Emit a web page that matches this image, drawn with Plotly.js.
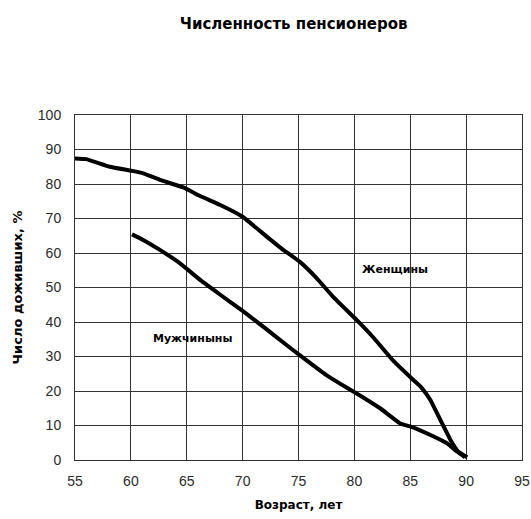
<!DOCTYPE html>
<html>
<head>
<meta charset="utf-8">
<script src="https://cdn.plot.ly/plotly-3.0.1.min.js"></script>
<style>html,body{margin:0;padding:0;background:#fff;}#chart{width:531px;height:519px;}</style>
</head>
<body>
<div id="chart"></div>
<script>
// Женщины (women)
var womenAge = [55, 56, 58.1, 60.1, 61.1, 62.6, 64.7, 66.2, 68.0, 70.0, 72.1, 73.6, 75.1, 76.6, 78.1, 80.2, 81.7, 83.5, 85.2, 86.0, 86.8, 87.7, 88.6, 89.3, 90.1];
var womenPct = [87.4, 87.2, 85.0, 83.8, 83.1, 81.2, 79.0, 76.5, 73.9, 70.5, 64.9, 61.0, 57.5, 52.8, 47.3, 40.6, 35.5, 28.7, 23.4, 21.0, 17.4, 11.6, 5.8, 2.4, 0.8];
// Мужчины (men)
var menAge = [60.1, 61.1, 62.6, 64.4, 66.2, 68.0, 70.0, 72.1, 73.9, 75.1, 77.5, 79.3, 80.2, 82.3, 84.1, 85.3, 87.1, 88.3, 89.2, 89.9];
var menPct = [65.4, 63.8, 60.9, 57.0, 52.2, 47.9, 43.2, 38.0, 33.4, 30.4, 24.6, 21.0, 19.3, 15.0, 10.6, 9.4, 6.8, 4.8, 2.4, 0.8];

var xTicks = [55, 60, 65, 70, 75, 80, 85, 90, 95];
var yTicks = [0, 10, 20, 30, 40, 50, 60, 70, 80, 90, 100];

var titleText = "Численность пенсионеров";
var xTitle = "Возраст, лет";
var yTitle = "Число доживших, %";
var labelWomen = "Женщины";
var labelMen = "Мужчиныны";

var lineStyle = {color: "#000", width: 4, shape: "spline", smoothing: 0.3};

var traces = [
  {x: womenAge, y: womenPct, mode: "lines", line: lineStyle, name: labelWomen, hoverinfo: "skip"},
  {x: menAge, y: menPct, mode: "lines", line: lineStyle, name: labelMen, hoverinfo: "skip"}
];

var tickFont = {family: "Liberation Sans, Arial, sans-serif", size: 14, color: "#2a2a2a"};

var layout = {
  width: 531, height: 519,
  margin: {l: 75, r: 9, t: 115, b: 59},
  paper_bgcolor: "#fff", plot_bgcolor: "#fff",
  showlegend: false,
  title: {text: "<b>" + titleText + "</b>", font: {family: "DejaVu Sans, sans-serif", size: 15, color: "#000"}, x: 0.553, xanchor: "center", y: 0.955, yanchor: "middle"},
  xaxis: {
    range: [55, 95], tickvals: xTicks, ticktext: xTicks.map(String),
    showgrid: true, gridcolor: "#333", gridwidth: 1,
    showline: true, linecolor: "#333", linewidth: 1, mirror: true,
    zeroline: false, ticks: "", tickfont: tickFont, ticklabelstandoff: 8,
    title: {text: "<b>" + xTitle + "</b>", font: {family: "DejaVu Sans, sans-serif", size: 12, color: "#000"}, standoff: 12}
  },
  yaxis: {
    range: [0, 100], tickvals: yTicks, ticktext: yTicks.map(String),
    showgrid: true, gridcolor: "#333", gridwidth: 1,
    showline: true, linecolor: "#333", linewidth: 1, mirror: true,
    zeroline: false, ticks: "", tickfont: tickFont, ticklabelstandoff: 10,
    title: {text: "<b>" + yTitle + "</b>", font: {family: "DejaVu Sans, sans-serif", size: 13, color: "#000"}, standoff: 12}
  },
  annotations: [
    {x: 83.6, y: 55.1, xref: "x", yref: "y", text: "<b>" + labelWomen + "</b>", showarrow: false, font: {family: "DejaVu Sans, sans-serif", size: 11, color: "#000"}},
    {x: 65.5, y: 35.3, xref: "x", yref: "y", text: "<b>" + labelMen + "</b>", showarrow: false, font: {family: "DejaVu Sans, sans-serif", size: 11, color: "#000"}}
  ]
};

Plotly.newPlot("chart", traces, layout, {displayModeBar: false, staticPlot: true});
</script>
</body>
</html>
